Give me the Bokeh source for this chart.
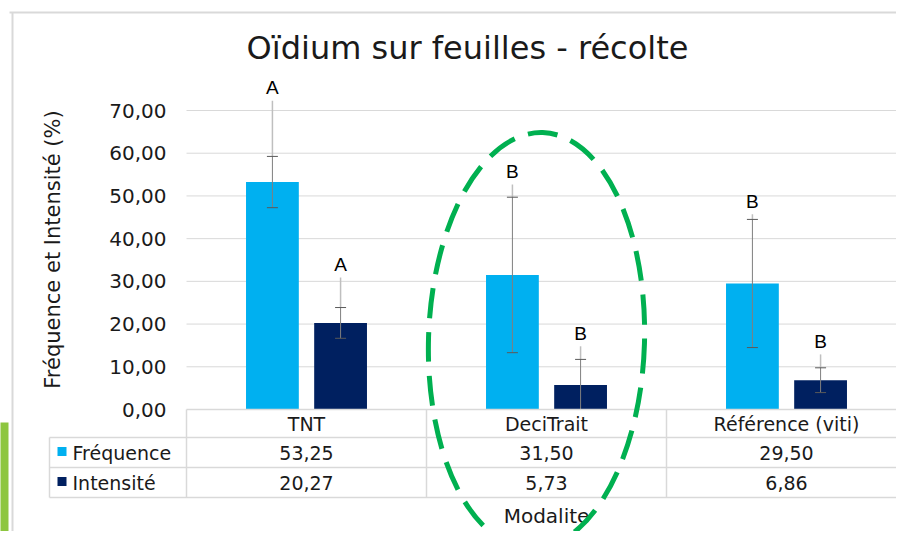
from bokeh.plotting import figure
from bokeh.models import Range1d
from bokeh.core.properties import value
from bokeh.embed import file_html
from bokeh.resources import INLINE
import math

# ---------------- data ----------------
categories = ["TNT", "DeciTrait", "Référence (viti)"]
series_names = ["Fréquence", "Intensité"]
frequence = [53.25, 31.50, 29.50]
intensite = [20.27, 5.73, 6.86]
frequence_err = [6.0, 18.2, 15.0]
intensite_err = [3.6, 6.0, 2.9]
frequence_sig_top = [72.3, 52.7, 45.7]
intensite_sig_top = [30.9, 14.8, 12.9]
frequence_letters = ["A", "B", "B"]
intensite_letters = ["A", "B", "B"]
y_ticks = [0, 10, 20, 30, 40, 50, 60, 70]
title_text = "Oïdium sur feuilles - récolte"
y_title = "Fréquence et Intensité (%)"
x_title = "Modalite"

# ---------------- layout helpers (reference pixels -> data) ----------------
W, H = 896, 531
PX_X = 240.0                 # px per category
X0 = 186                     # px of category boundary 0
PX_Y = 299.0 / 70.0          # px per percent
Y0 = 409                     # px of value 0


def ux(px):
    return (px - X0) / PX_X


def vy(py):
    return (Y0 - py) / PX_Y


p = figure(width=W, height=H,
           x_range=Range1d(-X0 / PX_X, (W - X0) / PX_X),
           y_range=Range1d(-(H - Y0) / PX_Y, Y0 / PX_Y),
           x_axis_type=None, y_axis_type=None,
           output_backend="svg", toolbar_location=None, min_border=0)
p.outline_line_color = None
p.background_fill_color = "white"
p.border_fill_color = "white"

FONT = value("DejaVu Sans")
GRID = "#D9D9D9"
C_F = "#00B0F0"
C_I = "#002060"
n = len(categories)

# left green accent and chart frame border (top, left)
p.quad(left=[ux(-5)], right=[ux(8)], bottom=[vy(560)], top=[vy(422)], fill_color="#8DC63F", line_color=None)
p.segment(x0=[ux(9), ux(12)], y0=[vy(12), vy(12)], x1=[ux(930), ux(12)], y1=[vy(12), vy(560)],
          line_color=GRID, line_width=2)

# grid lines
gl = [t for t in y_ticks if t > 0]
p.segment(x0=[0] * len(gl), y0=gl, x1=[n] * len(gl), y1=gl, line_color=GRID, line_width=1)

# tick labels
p.text(x=[ux(166)] * len(y_ticks), y=y_ticks,
       text=[f"{t:.2f}".replace(".", ",") for t in y_ticks],
       text_font=FONT, text_font_size="20px", text_align="right",
       text_baseline="middle", text_color="#1a1a1a")

# bars
bw = 0.22
off = 0.142
xf = [i + 0.5 - off for i in range(n)]
xi = [i + 0.5 + off for i in range(n)]
p.vbar(x=xf, top=frequence, bottom=0, width=bw, fill_color=C_F, line_color=None)
p.vbar(x=xi, top=intensite, bottom=0, width=bw, fill_color=C_I, line_color=None)

# significance lines (light) and error bars
cap = 5.5 / PX_X
for xs, vals, errs, tops, letters in [(xf, frequence, frequence_err, frequence_sig_top, frequence_letters),
                                      (xi, intensite, intensite_err, intensite_sig_top, intensite_letters)]:
    up = [v + e for v, e in zip(vals, errs)]
    lo = [max(v - e, 0) for v, e in zip(vals, errs)]
    p.segment(x0=xs, y0=up, x1=xs, y1=tops, line_color="#BFBFBF", line_width=1.5)
    p.segment(x0=xs, y0=lo, x1=xs, y1=up, line_color="#7F7F7F", line_width=1)
    p.segment(x0=[x - cap for x in xs], y0=up, x1=[x + cap for x in xs], y1=up,
              line_color="#595959", line_width=1)
    lo_ok = [(x, l) for x, v, e, l in zip(xs, vals, errs, lo) if v - e > 0]
    p.segment(x0=[x - cap for x, _ in lo_ok], y0=[l for _, l in lo_ok],
              x1=[x + cap for x, _ in lo_ok], y1=[l for _, l in lo_ok],
              line_color="#595959", line_width=1)
    p.text(x=xs, y=tops, text=letters, text_font=value("Liberation Sans"),
           text_font_size="19px", text_align="center", text_baseline="middle",
           y_offset=-13, text_color="black")

# data table
row_top = [409, 437, 467, 497]
p.segment(x0=[0], y0=[vy(row_top[0])], x1=[n], y1=[vy(row_top[0])], line_color=GRID, line_width=1.5)
p.segment(x0=[ux(49)] * 3, y0=[vy(r) for r in row_top[1:]], x1=[n] * 3,
          y1=[vy(r) for r in row_top[1:]], line_color=GRID, line_width=1.5)
p.segment(x0=list(range(n + 1)), y0=[vy(row_top[0])] * (n + 1), x1=list(range(n + 1)),
          y1=[vy(row_top[3])] * (n + 1), line_color=GRID, line_width=1.5)
p.segment(x0=[ux(49)], y0=[vy(row_top[1])], x1=[ux(49)], y1=[vy(row_top[3])],
          line_color=GRID, line_width=1.5)

centers = [i + 0.5 for i in range(n)]
p.text(x=centers, y=[vy(423)] * n, text=categories, text_font=FONT, text_font_size="19px",
       text_align="center", text_baseline="middle", text_color="#1a1a1a")
p.text(x=centers, y=[vy(452)] * n, text=[f"{v:.2f}".replace(".", ",") for v in frequence],
       text_font=FONT, text_font_size="19px", text_align="center", text_baseline="middle",
       text_color="#1a1a1a")
p.text(x=centers, y=[vy(482)] * n, text=[f"{v:.2f}".replace(".", ",") for v in intensite],
       text_font=FONT, text_font_size="19px", text_align="center", text_baseline="middle",
       text_color="#1a1a1a")

# legend keys inside table
p.scatter(x=[ux(61.5)] * 2, y=[vy(451), vy(481)], marker="square", size=9,
          fill_color=[C_F, C_I], line_color=None)
p.text(x=[ux(72)] * 2, y=[vy(452), vy(482)], text=series_names, text_font=FONT,
       text_font_size="19px", text_align="left", text_baseline="middle", text_color="#1a1a1a")

# axis titles and chart title
p.text(x=[ux(546)], y=[vy(515)], text=[x_title], text_font=FONT, text_font_size="20px",
       text_align="center", text_baseline="middle", text_color="#1a1a1a")
p.text(x=[ux(52)], y=[vy(249)], text=[y_title], text_font=FONT, text_font_size="21px",
       text_align="center", text_baseline="middle", angle=math.pi / 2, text_color="#1a1a1a")
p.text(x=[ux(467)], y=[vy(47)], text=[title_text], text_font=FONT, text_font_size="32px",
       text_align="center", text_baseline="middle", text_color="#1a1a1a")

# highlight ellipse around DeciTrait
p.ellipse(x=[ux(536)], y=[vy(340)], width=[216 / PX_X], height=[416 / PX_Y], angle=-0.03,
          fill_color=None, line_color="#00B050", line_width=5, line_dash="30 14")

open("out.html", "w").write(file_html(p, INLINE))
